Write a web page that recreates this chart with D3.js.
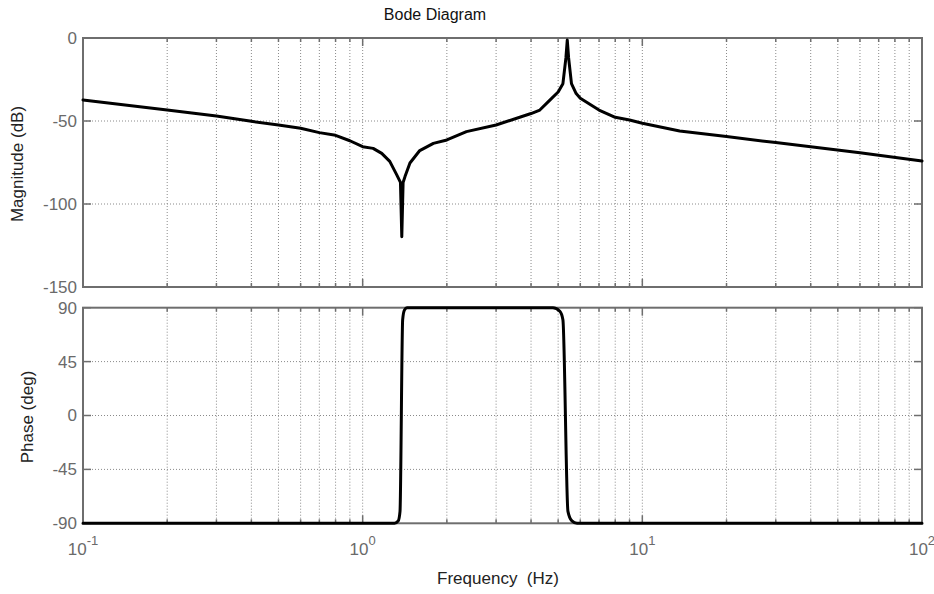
<!DOCTYPE html>
<html>
<head>
<meta charset="utf-8">
<script src="https://cdn.jsdelivr.net/npm/d3@7"></script>
<style>
  html, body { margin: 0; padding: 0; background: #fff; }
  svg { display: block; font-family: "Liberation Sans", Arial, Helvetica, sans-serif; }
</style>
</head>
<body>
<div id="chart"></div>
<script>
// ---- data ----
const magFreq = [0.1, 0.2, 0.3, 0.4, 0.5, 0.6, 0.7, 0.8, 0.9, 1.0, 1.09, 1.17, 1.25, 1.32, 1.365, 1.38, 1.395, 1.417, 1.476, 1.6, 1.79, 2.0, 2.35, 3.0, 4.0, 4.3, 4.68, 5.0, 5.2, 5.33, 5.39, 5.45, 5.58, 5.8, 6.0, 7.0, 8.0, 9.0, 10, 13.6, 20, 30, 40, 60, 100];
const magDb   = [-37.3, -43.4, -47.0, -50.2, -52.4, -54.4, -57.0, -58.6, -61.9, -65.5, -66.5, -69.5, -74.3, -82.0, -87.0, -119.7, -87.0, -83.5, -75.3, -67.8, -63.5, -61.4, -56.4, -52.4, -45.5, -43.4, -37.3, -32.5, -27.5, -12.0, -1.2, -12.0, -27.5, -33.5, -36.3, -43.4, -47.8, -49.4, -51.4, -56.0, -59.4, -63.0, -65.5, -69.1, -74.1];

const phaseFreq = [0.1, 1.3, 1.34, 1.36, 1.39, 1.41, 1.44, 4.79, 5.07, 5.2, 5.42, 5.6, 5.84, 100];
const phaseDeg  = [-90, -90, -88, -80, 80, 88, 90, 90, 87, 80, -80, -88, -90, -90];

const magTicks = [0, -50, -100, -150];
const phaseTicks = [90, 45, 0, -45, -90];
const decadeTicks = [0.1, 1, 10, 100];
const decadeExponents = ["-1", "0", "1", "2"];

const titleText = "Bode Diagram";
const magLabel = "Magnitude (dB)";
const phaseLabel = "Phase (deg)";
const xLabel = "Frequency  (Hz)";

// ---- layout ----
const W = 934, H = 594;
const left = 83, right = 922;
const magTop = 38, magBottom = 287;
const phTop = 307.7, phBottom = 523.3;

const svg = d3.select("#chart").append("svg").attr("width", W).attr("height", H);

const x = d3.scaleLog().domain([0.1, 100]).range([left, right]);
const yMag = d3.scaleLinear().domain([-150, 0]).range([magBottom, magTop]);
const yPh = d3.scaleLinear().domain([-90, 90]).range([phBottom, phTop]);

const minorTicks = [];
[0.1, 1, 10].forEach(d => { for (let k = 2; k <= 9; k++) minorTicks.push(d * k); });
const allX = decadeTicks.concat(minorTicks);

const gridColor = "#8a8a8a";
const axisColor = "#6e6e6e";
const tickTextColor = "#6a6a6a";

function panel(y, top, bottom, yTicks) {
  const g = svg.append("g");
  g.selectAll("line.vg").data(allX.filter(v => v > 0.1 && v < 100)).join("line")
    .attr("x1", d => x(d)).attr("x2", d => x(d))
    .attr("y1", top).attr("y2", bottom)
    .attr("stroke", gridColor).attr("stroke-width", 1)
    .attr("stroke-dasharray", "1,2");
  g.selectAll("line.hg").data(yTicks.filter(v => y(v) > top + 1 && y(v) < bottom - 1)).join("line")
    .attr("x1", left).attr("x2", right)
    .attr("y1", d => y(d)).attr("y2", d => y(d))
    .attr("stroke", gridColor).attr("stroke-width", 1)
    .attr("stroke-dasharray", "1,2");
  const xt = allX.map(v => ({v, len: decadeTicks.includes(v) ? 8 : 4}));
  g.selectAll("line.xtb").data(xt).join("line")
    .attr("x1", d => x(d.v)).attr("x2", d => x(d.v))
    .attr("y1", bottom).attr("y2", d => bottom - d.len)
    .attr("stroke", axisColor).attr("stroke-width", 1.5);
  g.selectAll("line.xtt").data(xt).join("line")
    .attr("x1", d => x(d.v)).attr("x2", d => x(d.v))
    .attr("y1", top).attr("y2", d => top + d.len)
    .attr("stroke", axisColor).attr("stroke-width", 1.5);
  g.selectAll("line.ytl").data(yTicks).join("line")
    .attr("x1", left).attr("x2", left + 8)
    .attr("y1", d => y(d)).attr("y2", d => y(d))
    .attr("stroke", axisColor).attr("stroke-width", 1.5);
  g.selectAll("line.ytr").data(yTicks).join("line")
    .attr("x1", right).attr("x2", right - 8)
    .attr("y1", d => y(d)).attr("y2", d => y(d))
    .attr("stroke", axisColor).attr("stroke-width", 1.5);
  g.append("rect")
    .attr("x", left).attr("y", top)
    .attr("width", right - left).attr("height", bottom - top)
    .attr("fill", "none").attr("stroke", axisColor).attr("stroke-width", 2);
  g.selectAll("text.yl").data(yTicks).join("text")
    .attr("x", left - 6).attr("y", d => y(d))
    .attr("dy", "0.35em")
    .attr("text-anchor", "end")
    .attr("font-size", 17)
    .attr("fill", tickTextColor)
    .text(d => d);
  return g;
}

panel(yMag, magTop, magBottom, magTicks);
panel(yPh, phTop, phBottom, phaseTicks);

const magPts = magFreq.map((f, i) => [f, magDb[i]]);
const phPts = phaseFreq.map((f, i) => [f, phaseDeg[i]]);

svg.append("path").datum(magPts)
  .attr("d", d3.line().x(d => x(d[0])).y(d => yMag(d[1])).curve(d3.curveLinear))
  .attr("fill", "none").attr("stroke", "#000").attr("stroke-width", 3)
  .attr("stroke-linejoin", "round").attr("stroke-linecap", "round");

svg.append("path").datum(phPts)
  .attr("d", d3.line().x(d => x(d[0])).y(d => yPh(d[1])).curve(d3.curveMonotoneX))
  .attr("fill", "none").attr("stroke", "#000").attr("stroke-width", 3)
  .attr("stroke-linejoin", "round").attr("stroke-linecap", "round");

const xl = svg.selectAll("text.xl").data(decadeTicks).join("text")
  .attr("x", d => x(d)).attr("y", 555)
  .attr("text-anchor", "middle")
  .attr("font-size", 17)
  .attr("fill", tickTextColor);
xl.append("tspan").text("10");
xl.append("tspan").attr("dy", -10).attr("font-size", 13).text((d, i) => decadeExponents[i]);

svg.append("text").attr("x", 435).attr("y", 20)
  .attr("text-anchor", "middle").attr("font-size", 16).attr("fill", "#111")
  .text(titleText);

svg.append("text").attr("transform", "translate(23,164) rotate(-90)")
  .attr("text-anchor", "middle").attr("font-size", 17).attr("fill", "#222")
  .text(magLabel);

svg.append("text").attr("transform", "translate(33,417) rotate(-90)")
  .attr("text-anchor", "middle").attr("font-size", 17).attr("fill", "#222")
  .text(phaseLabel);

svg.append("text").attr("x", 498).attr("y", 584)
  .attr("text-anchor", "middle").attr("font-size", 17).attr("fill", "#222")
  .style("white-space", "pre")
  .text(xLabel);
</script>
</body>
</html>
